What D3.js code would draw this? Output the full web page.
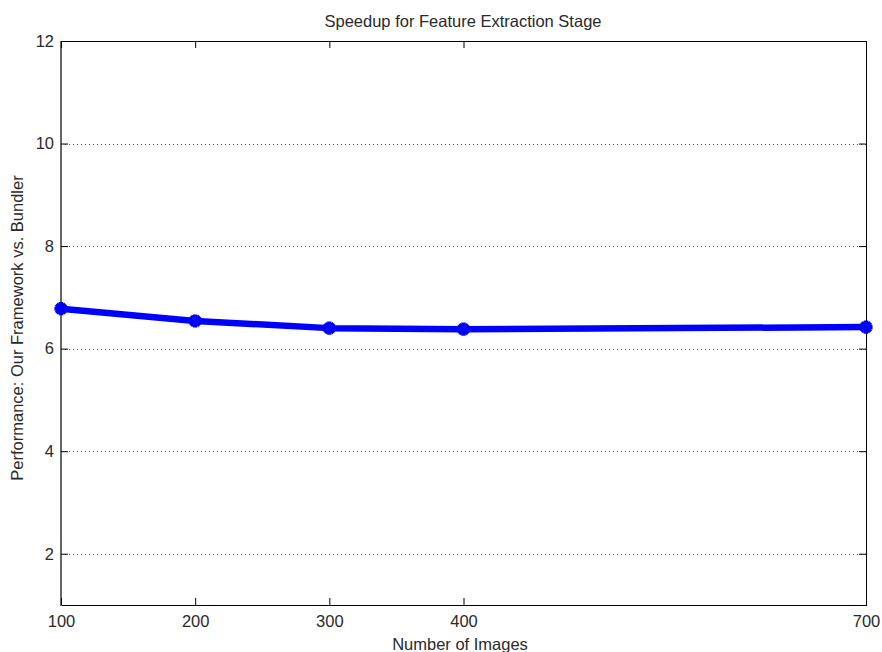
<!DOCTYPE html>
<html>
<head>
<meta charset="utf-8">
<script src="https://cdn.jsdelivr.net/npm/d3@7"></script>
<style>
  html, body { margin: 0; padding: 0; background: #fff; }
  svg { display: block; font-family: "Liberation Sans", Arial, sans-serif; }
</style>
</head>
<body>
<svg id="chart" width="882" height="652"></svg>
<script>
// Speedup of the feature extraction stage versus image count
const imageCounts = [100, 200, 300, 400, 700];
const speedup = [6.78, 6.54, 6.40, 6.38, 6.42];
const xTickValues = [100, 200, 300, 400, 700];
const yTickValues = [2, 4, 6, 8, 10, 12];

const titleText = "Speedup for Feature Extraction Stage";
const xLabelText = "Number of Images";
const yLabelText = "Performance: Our Framework vs. Bundler";

const svg = d3.select("#chart");
const plotLeft = 61, plotRight = 866, plotTop = 41, plotBottom = 605;
const fontSize = 16.5;
const textColor = "#2a2a2a";

const x = d3.scaleLinear().domain([100, 700]).range([plotLeft, plotRight]);
const y = d3.scaleLinear().domain([1, 12]).range([plotBottom, plotTop]);

// dotted horizontal grid
svg.append("g")
  .selectAll("line")
  .data(yTickValues.filter(v => v < 12))
  .join("line")
  .attr("x1", plotLeft).attr("x2", plotRight)
  .attr("y1", d => Math.round(y(d)) + 0.5).attr("y2", d => Math.round(y(d)) + 0.5)
  .attr("stroke", "#555").attr("stroke-width", 1)
  .attr("stroke-dasharray", "1,3");

// axis box
const box = svg.append("g").attr("fill", "none").attr("shape-rendering", "crispEdges");
box.append("line").attr("x1", plotLeft).attr("x2", plotRight).attr("y1", plotTop + 0.5).attr("y2", plotTop + 0.5).attr("stroke", "#000");
box.append("line").attr("x1", plotLeft).attr("x2", plotRight).attr("y1", plotBottom + 0.5).attr("y2", plotBottom + 0.5).attr("stroke", "#000");
box.append("line").attr("x1", plotRight + 0.5).attr("x2", plotRight + 0.5).attr("y1", plotTop).attr("y2", plotBottom + 1).attr("stroke", "#000");
box.append("line").attr("x1", plotLeft).attr("x2", plotLeft).attr("y1", plotTop).attr("y2", plotBottom + 1).attr("stroke", "#666").attr("stroke-width", 2);

// inward ticks on all four sides
const tickLen = 7;
const xAxisBottom = d3.axisBottom(x).tickValues(xTickValues).tickSizeInner(-tickLen).tickSizeOuter(0).tickPadding(10).tickFormat(d3.format("d"));
const gx = svg.append("g").attr("transform", `translate(0,${plotBottom})`).call(xAxisBottom);
gx.select(".domain").remove();
gx.selectAll("line").attr("stroke", "#000");
gx.selectAll("text").attr("font-size", fontSize).attr("fill", textColor).attr("dy", null).attr("y", 22);

const xAxisTop = d3.axisTop(x).tickValues(xTickValues).tickSizeInner(-tickLen).tickSizeOuter(0).tickFormat("");
const gxt = svg.append("g").attr("transform", `translate(0,${plotTop})`).call(xAxisTop);
gxt.select(".domain").remove();
gxt.selectAll("line").attr("stroke", "#000");

const yAxisLeft = d3.axisLeft(y).tickValues(yTickValues).tickSizeInner(-tickLen).tickSizeOuter(0).tickPadding(7);
const gy = svg.append("g").attr("transform", `translate(${plotLeft},0)`).call(yAxisLeft);
gy.select(".domain").remove();
gy.selectAll("line").attr("stroke", "#000");
gy.selectAll("text").attr("font-size", fontSize).attr("fill", textColor);

const yAxisRight = d3.axisRight(y).tickValues(yTickValues).tickSizeInner(-tickLen).tickSizeOuter(0).tickFormat("");
const gyr = svg.append("g").attr("transform", `translate(${plotRight},0)`).call(yAxisRight);
gyr.select(".domain").remove();
gyr.selectAll("line").attr("stroke", "#000");

// data line
const pts = imageCounts.map((c, i) => [c, speedup[i]]);
svg.append("path")
  .datum(pts)
  .attr("fill", "none")
  .attr("stroke", "#0000ff")
  .attr("stroke-width", 6.5)
  .attr("stroke-linejoin", "round")
  .attr("d", d3.line().x(d => x(d[0])).y(d => y(d[1])));

// asterisk markers
const star = d3.symbol().type(d3.symbolCross).size(95);
const markers = svg.append("g");
pts.forEach(d => {
  const g = markers.append("g").attr("transform", `translate(${x(d[0])},${y(d[1])})`);
  g.append("path").attr("d", star()).attr("fill", "#0000ff");
  g.append("path").attr("d", star()).attr("fill", "#0000ff").attr("transform", "rotate(45)");
  g.append("circle").attr("r", 4.5).attr("fill", "#0000ff");
});

// labels
svg.append("text").attr("x", 463).attr("y", 27)
  .attr("text-anchor", "middle").attr("font-size", fontSize).attr("fill", textColor).text(titleText);
svg.append("text").attr("x", 460).attr("y", 650)
  .attr("text-anchor", "middle").attr("font-size", fontSize).attr("fill", textColor).text(xLabelText);
svg.append("text").attr("transform", `translate(23,${(plotTop + plotBottom) / 2 + 5}) rotate(-90)`)
  .attr("text-anchor", "middle").attr("font-size", fontSize).attr("fill", textColor).text(yLabelText);
</script>
</body>
</html>
